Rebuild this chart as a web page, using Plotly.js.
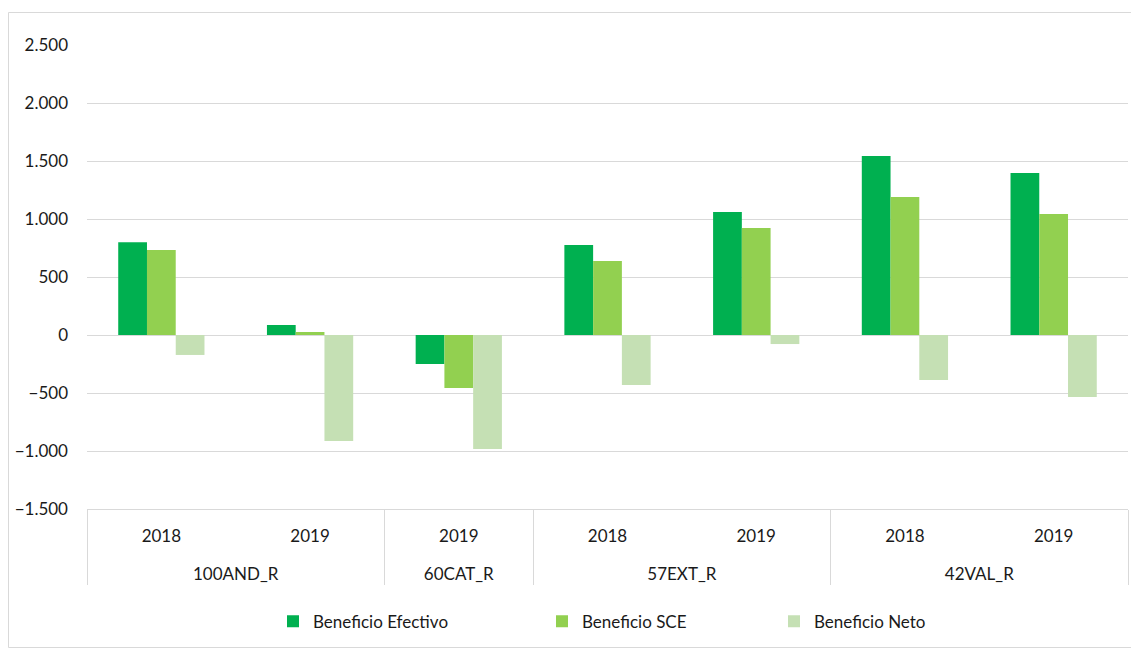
<!DOCTYPE html>
<html>
<head>
<meta charset="utf-8">
<script src="https://cdn.plot.ly/plotly-3.0.1.min.js"></script>
<style>
  html, body { margin: 0; padding: 0; background: #fff; }
  #chart { width: 1131px; height: 651px; }
</style>
</head>
<body>
<div id="chart"></div>
<script>
const groups = ['100AND_R', '100AND_R', '60CAT_R', '57EXT_R', '57EXT_R', '42VAL_R', '42VAL_R'];
const years = ['2018', '2019', '2019', '2018', '2019', '2018', '2019'];
const seriesNames = ['Beneficio Efectivo', 'Beneficio SCE', 'Beneficio Neto'];
const beneficioEfectivo = [800, 86, -250, 776, 1060, 1543, 1397];
const beneficioSCE = [733, 26, -457, 638, 922, 1190, 1043];
const beneficioNeto = [-172, -914, -983, -431, -78, -388, -534];
const seriesColors = ['#00B050', '#92D050', '#C5E0B4'];

const fontFamily = 'Lato, "Open Sans", sans-serif';
const textColor = '#1a1a1a';
const values = [beneficioEfectivo, beneficioSCE, beneficioNeto];
const legendIds = ['legend', 'legend2', 'legend3'];
// year labels get an extra blank line so the group row sits lower, as in the reference
const yearLabels = years.map(y => y + '<br><span style="font-size:40px">&nbsp;</span>');

const traces = values.map((v, i) => ({
  type: 'bar',
  name: seriesNames[i],
  x: [groups, yearLabels],
  y: v,
  marker: { color: seriesColors[i], line: { width: 0 } },
  legend: legendIds[i],
  hoverinfo: 'y+name'
}));

const legendBase = {
  orientation: 'h',
  y: -0.243,
  yanchor: 'middle',
  xanchor: 'left',
  font: { family: fontFamily, size: 17, color: textColor },
  bgcolor: 'rgba(0,0,0,0)',
  borderwidth: 0,
  itemwidth: 30
};

const layout = {
  width: 1131,
  height: 651,
  margin: { l: 87, r: 3, t: 45, b: 142 },
  paper_bgcolor: '#ffffff',
  plot_bgcolor: '#ffffff',
  separators: ',.',
  barmode: 'group',
  bargap: 0.42,
  bargroupgap: 0,
  font: { family: fontFamily, size: 17, color: textColor },
  showlegend: true,
  legend: Object.assign({}, legendBase, { x: (273 - 87) / 1041 }),
  legend2: Object.assign({}, legendBase, { x: (542 - 87) / 1041 }),
  legend3: Object.assign({}, legendBase, { x: (774 - 87) / 1041 }),
  xaxis: {
    type: 'multicategory',
    showgrid: false,
    showline: true,
    linecolor: '#d9d9d9',
    linewidth: 1,
    zeroline: false,
    ticks: '',
    ticklabelstandoff: 12,
    showdividers: true,
    dividercolor: '#d9d9d9',
    dividerwidth: 1,
    tickfont: { family: fontFamily, size: 17, color: textColor }
  },
  yaxis: {
    range: [-1500, 2500],
    tick0: -1500,
    dtick: 500,
    tickformat: ',d',
    showgrid: true,
    gridcolor: '#d9d9d9',
    gridwidth: 1,
    zeroline: true,
    zerolinecolor: '#d9d9d9',
    zerolinewidth: 1,
    showline: false,
    ticks: '',
    ticklabelstandoff: 18,
    tickfont: { family: fontFamily, size: 17, color: textColor }
  },
  shapes: [{
    type: 'rect',
    xref: 'paper', yref: 'paper',
    x0: (8.5 - 87) / 1041, x1: (1140 - 87) / 1041,
    y0: (509 - 647.5) / 464, y1: (509 - 12.5) / 464,
    line: { color: '#d9d9d9', width: 1 },
    fillcolor: 'rgba(0,0,0,0)',
    layer: 'below'
  }]
};

Plotly.newPlot('chart', traces, layout, { displayModeBar: false, responsive: false });
</script>
</body>
</html>
